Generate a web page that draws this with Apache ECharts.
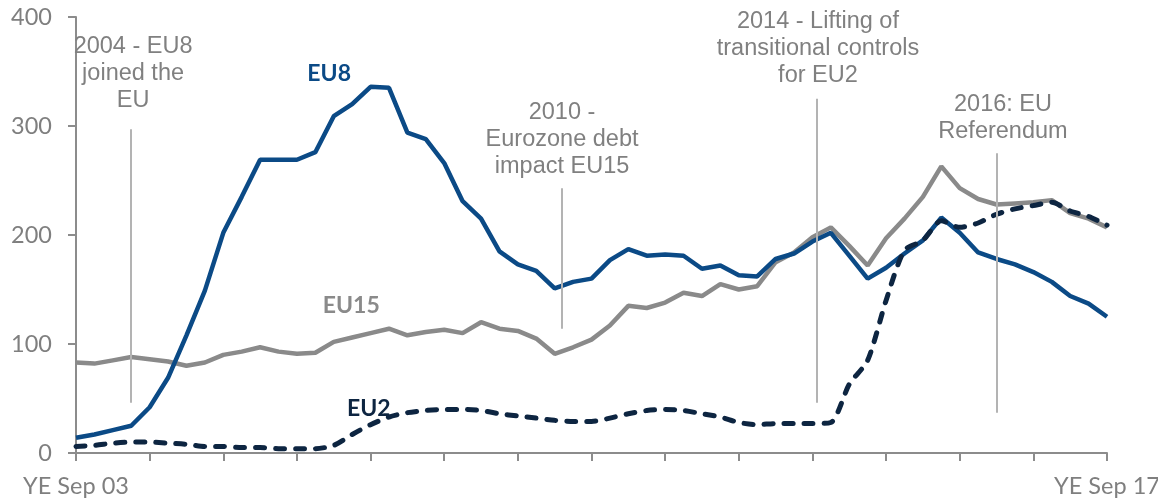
<!DOCTYPE html>
<html>
<head>
<meta charset="utf-8">
<script src="https://cdn.jsdelivr.net/npm/echarts@6/dist/echarts.min.js"></script>
<style>
html,body{margin:0;padding:0;background:#fff;}
#chart{width:1158px;height:501px;}
</style>
</head>
<body>
<div id="chart"></div>
<script>
const categories = [
  'YE Sep 03','YE Dec 03',
  'YE Mar 04','YE Jun 04','YE Sep 04','YE Dec 04',
  'YE Mar 05','YE Jun 05','YE Sep 05','YE Dec 05',
  'YE Mar 06','YE Jun 06','YE Sep 06','YE Dec 06',
  'YE Mar 07','YE Jun 07','YE Sep 07','YE Dec 07',
  'YE Mar 08','YE Jun 08','YE Sep 08','YE Dec 08',
  'YE Mar 09','YE Jun 09','YE Sep 09','YE Dec 09',
  'YE Mar 10','YE Jun 10','YE Sep 10','YE Dec 10',
  'YE Mar 11','YE Jun 11','YE Sep 11','YE Dec 11',
  'YE Mar 12','YE Jun 12','YE Sep 12','YE Dec 12',
  'YE Mar 13','YE Jun 13','YE Sep 13','YE Dec 13',
  'YE Mar 14','YE Jun 14','YE Sep 14','YE Dec 14',
  'YE Mar 15','YE Jun 15','YE Sep 15','YE Dec 15',
  'YE Mar 16','YE Jun 16','YE Sep 16','YE Dec 16',
  'YE Mar 17','YE Jun 17','YE Sep 17'
];
const shownXLabels = ['YE Sep 03', 'YE Sep 17'];

const eu8 = [14,17,21,25,42,69,108,149,202,235,269,269,269,276,309,320,336,335,294,288,266,231,215,185,173,167,151,157,160,177,187,181,182,181,169,172,163,162,178,183,194,202,181,160,170,183,195,216,202,184,178,173,166,157,144,137,125];
const eu15 = [83,82,85,88,86,84,80,83,90,93,97,93,91,92,102,106,110,114,108,111,113,110,120,114,112,105,91,97,104,117,135,133,138,147,144,155,150,153,175,184,198,207,190,172,197,215,235,263,243,233,228,229,230,232,220,215,207];
const eu2 = [6,7,9,10,10,9,8,6,6,5,5,4,4,4,7,17,26,33,37,39,40,40,39,36,34,32,30,29,29,32,36,39,40,39,36,33,28,26,27,27,27,28,63,85,140,186,195,213,207,211,219,224,227,230,222,217,209];

const yTicks = [0, 100, 200, 300, 400];

// annotations: x index of the marker line, text centre, line top / bottom values, text
const annotations = [
  {x: 3.0, textX: 3.1, textY: 348, top: 297, bottom: 46, text: '2004 - EU8\njoined the\nEU'},
  {x: 26.4, textX: 26.4, textY: 288, top: 243, bottom: 114, text: '2010 -\nEurozone debt\nimpact EU15'},
  {x: 40.25, textX: 40.3, textY: 371, top: 325, bottom: 46, text: '2014 - Lifting of\ntransitional controls\nfor EU2'},
  {x: 50.0, textX: 50.35, textY: 307, top: 275, bottom: 37, text: '2016: EU\nReferendum'}
];
const seriesLabels = [
  {name: 'EU8', x: 13.75, y: 348, color: '#0b4a86'},
  {name: 'EU15', x: 14.95, y: 135, color: '#8a8a8a'},
  {name: 'EU2', x: 15.9, y: 41, color: '#0d2541'}
];

const toPairs = arr => arr.map((v, i) => [i, v]);

const annoLines = annotations.map(a => [
  {coord: [a.x, a.top]}, {coord: [a.x, a.bottom]}
]);
const annoTexts = annotations.map(a => ({
  coord: [a.textX, a.textY], value: a.text
}));
const serTexts = seriesLabels.map(s => ({
  coord: [s.x, s.y], value: s.name,
  label: {color: s.color}
}));

const chart = echarts.init(document.getElementById('chart'), null, {renderer: 'canvas'});
const axisGray = '#8c8c8c';
const labelFont = 'Lato, "Open Sans", sans-serif';
chart.setOption({
  animation: false,
  grid: {left: 76, right: 51, top: 17, bottom: 48, containLabel: false, outerBoundsMode: 'none'},
  xAxis: {
    type: 'value', min: 0, max: categories.length - 1, interval: 4,
    axisLine: {show: true, lineStyle: {color: axisGray, width: 2}},
    axisTick: {show: true, length: 8, lineStyle: {color: axisGray, width: 2}},
    splitLine: {show: false},
    axisLabel: {
      margin: 21, color: '#7f7f7f', fontSize: 23.5, fontFamily: labelFont,
      formatter: v => shownXLabels.indexOf(categories[v]) >= 0 ? categories[v] : ''
    }
  },
  yAxis: {
    type: 'value', min: yTicks[0], max: yTicks[yTicks.length - 1], interval: 100,
    axisLine: {show: true, lineStyle: {color: axisGray, width: 2}},
    axisTick: {show: true, length: 8, lineStyle: {color: axisGray, width: 2}},
    splitLine: {show: false},
    axisLabel: {margin: 24, color: '#7f7f7f', fontSize: 23.5, fontFamily: labelFont}
  },
  series: [
    {
      name: 'annotations', type: 'line', data: [], silent: true,
      markLine: {
        silent: true, symbol: ['none', 'none'], label: {show: false},
        lineStyle: {color: '#b3b3b3', width: 2, type: 'solid'},
        data: annoLines
      },
      markPoint: {
        silent: true, symbol: 'circle', symbolSize: 0,
        label: {
          show: true, position: 'inside', formatter: p => p.value,
          color: '#808080', fontSize: 23.5, lineHeight: 27,
          fontFamily: '"Liberation Sans", Arial, sans-serif', align: 'center'
        },
        data: annoTexts
      }
    },
    {
      name: 'EU15', type: 'line', data: toPairs(eu15), showSymbol: false,
      lineStyle: {color: '#8a8a8a', width: 4.5}, itemStyle: {color: '#8a8a8a'}
    },
    {
      name: 'EU8', type: 'line', data: toPairs(eu8), showSymbol: false,
      lineStyle: {color: '#0b4a86', width: 4.5}, itemStyle: {color: '#0b4a86'}
    },
    {
      name: 'EU2', type: 'line', data: toPairs(eu2), showSymbol: false, smooth: 0.25,
      lineStyle: {color: '#0d2541', width: 5, type: [9, 11], cap: 'round'},
      itemStyle: {color: '#0d2541'},
      markPoint: {
        silent: true, symbol: 'circle', symbolSize: 0,
        label: {
          show: true, position: 'inside', formatter: p => p.value,
          fontSize: 23, fontWeight: 'bold', fontFamily: labelFont
        },
        data: serTexts
      }
    }
  ]
});
</script>
</body>
</html>
